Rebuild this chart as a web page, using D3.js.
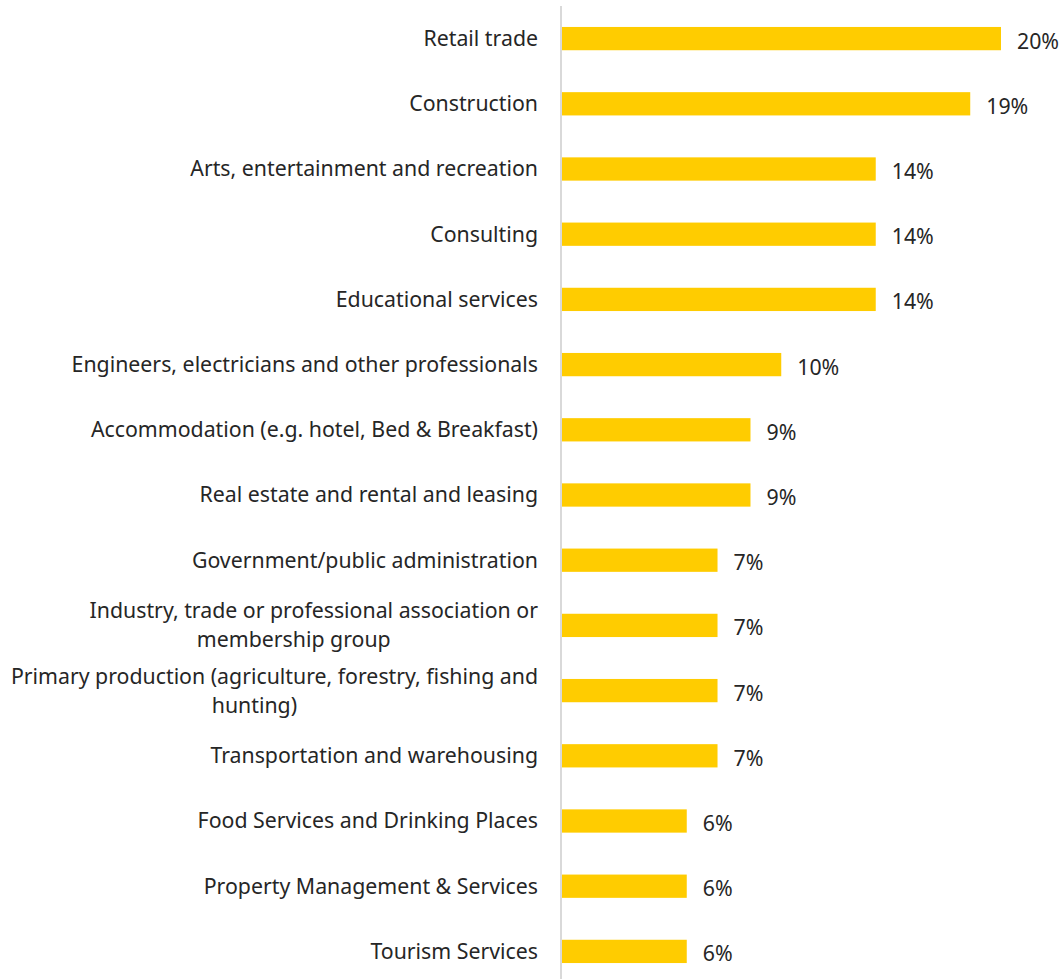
<!DOCTYPE html>
<html>
<head>
	<title> sectors chart </title>
	<script src="https://d3js.org/d3.v7.min.js"></script>
	<style>
		body { margin: 0; background: white; }
		text { font-family: "Noto Sans", "Open Sans", sans-serif; fill: #262626; }
	</style>
</head>

<body>
	<div id="vis">
		<svg> </svg>
	</div>

	<script type="text/javascript">

		// categories, top to bottom (wrapped lines as in the picture)
		const categories = [
			["Retail trade"],
			["Construction"],
			["Arts, entertainment and recreation"],
			["Consulting"],
			["Educational services"],
			["Engineers, electricians and other professionals"],
			["Accommodation (e.g. hotel, Bed & Breakfast)"],
			["Real estate and rental and leasing"],
			["Government/public administration"],
			["Industry, trade or professional association or", "membership group"],
			["Primary production (agriculture, forestry, fishing and", "hunting)"],
			["Transportation and warehousing"],
			["Food Services and Drinking Places"],
			["Property Management & Services"],
			["Tourism Services"]
		];

		// share of respondents, percent
		const values = [20.0, 18.6, 14.3, 14.3, 14.3, 10.0, 8.6, 8.6, 7.1, 7.1, 7.1, 7.1, 5.7, 5.7, 5.7];

		function plot() {
			var w = 1064;
			var h = 979;

			const axis_x = 561.5;
			const top_border = 6;
			const bottom_border = -5;
			const font_size = 21.3;
			const line_height = 29;

			const svg = d3.select("svg").attr("width", w).attr("height", h);

			const rows = values.map(function(v, i){ return {name: categories[i], value: v, idx: i}; });

			let x_scale = d3.scaleLinear().domain([0, 20]).range([axis_x, 1001]);
			let y_scale = d3.scaleBand().domain(d3.range(rows.length)).range([top_border, h - bottom_border]).paddingInner(0.643).paddingOuter(0.3215);

			svg.selectAll("rect.bar").data(rows).join("rect")
				.attr("class", "bar")
				.style("fill", "#ffcc00")
				.attr("x", x_scale(0))
				.attr("y", function(d){ return y_scale(d.idx); })
				.attr("width", function(d){ return x_scale(d.value) - x_scale(0); })
				.attr("height", y_scale.bandwidth());

			// vertical category axis line
			svg.append("line")
				.attr("x1", axis_x - 0.5).attr("x2", axis_x - 0.5)
				.attr("y1", top_border).attr("y2", h)
				.style("stroke", "#d9d9d9").style("stroke-width", 2);

			// value labels
			svg.selectAll("text.val").data(rows).join("text")
				.attr("class", "val")
				.attr("x", function(d){ return x_scale(d.value) + 16; })
				.attr("y", function(d){ return y_scale(d.idx) + y_scale.bandwidth() / 2 + 2.5; })
				.attr("dy", "0.35em")
				.style("font-size", font_size + "px")
				.text(function(d){ return Math.round(d.value) + "%"; });

			// category labels, first line flush with the axis, wrapped lines centred a bit left of it
			const label_right = 538;
			const groups = svg.selectAll("g.cat").data(rows).join("g").attr("class", "cat");
			groups.each(function(d){
				const g = d3.select(this);
				const cy = y_scale(d.idx) + y_scale.bandwidth() / 2;
				const n = d.name.length;
				const tx = g.selectAll("text").data(d.name).join("text")
					.attr("y", function(t, j){ return cy + (j - (n - 1) / 2) * line_height; })
					.attr("dy", "0.35em")
					.style("font-size", font_size + "px")
					.text(function(t){ return t; });
				let maxw = 0;
				tx.each(function(){ maxw = Math.max(maxw, this.getComputedTextLength()); });
				tx.attr("text-anchor", function(t, j){ return j == 0 ? "end" : "middle"; })
					.attr("x", function(t, j){ return j == 0 ? label_right : label_right - maxw / 2 - 20; });
			});
		}

		plot();

	</script>
</body>
</html>
